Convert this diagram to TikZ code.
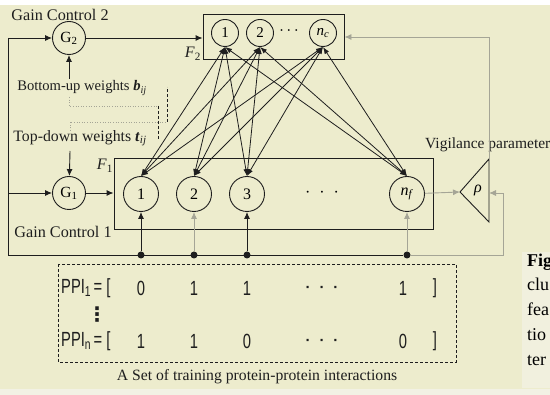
\documentclass[tikz,border=0pt]{standalone}
\usepackage{fontspec}
\setmainfont{Liberation Serif}
\newfontfamily\ppifont{Liberation Sans}
\newfontfamily\symfont{DejaVu Sans}
\usetikzlibrary{arrows.meta}
\definecolor{paper}{RGB}{237,236,205}
\definecolor{capbg}{RGB}{241,240,222}
\definecolor{strip}{RGB}{242,241,228}
\definecolor{ink}{RGB}{30,30,30}
\definecolor{pale}{RGB}{165,165,150}
\newcommand{\narrow}[1]{\scalebox{0.72}[1]{#1}}
\tikzset{
  ln/.style={line width=0.9pt, draw=ink},
  gl/.style={line width=0.9pt, draw=pale},
  arr/.style={-{Latex[length=7pt,width=6pt]}},
  twoway/.style={{Latex[length=7pt,width=5pt]}-{Latex[length=7pt,width=5pt]}, line width=0.8pt, draw=ink},
  gnode/.style={circle, draw=ink, line width=0.9pt, minimum size=33pt, inner sep=0pt, font=\fontsize{15.5}{17}\selectfont},
  cnode/.style={circle, draw=ink, line width=0.9pt, minimum size=27pt, inner sep=0pt, font=\fontsize{15}{17}\selectfont},
  fnode/.style={circle, draw=ink, line width=0.9pt, minimum size=35pt, inner sep=0pt, font=\fontsize{16}{18}\selectfont},
  layerbox/.style={draw=ink, line width=0.9pt, inner sep=0pt},
  dot/.style={circle, fill=ink, minimum size=7pt, inner sep=0pt},
  lbl/.style={font=\fontsize{15}{17}\selectfont, inner sep=0pt, text=ink},
  ppi/.style={font=\ppifont\fontsize{20.5}{22}\selectfont, inner sep=0pt, text=ink},
  ppidots/.style={font=\ppifont\bfseries\fontsize{15}{17}\selectfont, inner sep=0pt, text=ink},
  dotpath/.style={draw=pale, line width=0.9pt, dash pattern=on 1pt off 1.6pt},
  dashpath/.style={draw=ink, line width=0.9pt, dash pattern=on 3pt off 2pt},
  capt/.style={font=\fontsize{18}{20}\selectfont, anchor=base west, inner sep=0pt},
}
\begin{document}
\begin{tikzpicture}[x=1pt,y=-1pt]
\useasboundingbox (0,0) rectangle (550,395);
% paper
\fill[paper] (0,0) rectangle (550,395);
\fill[white] (0,0) rectangle (550,5);
\fill[strip] (0,389) rectangle (550,395);
\fill[capbg] (522,252) rectangle (550,388);

% caption fragments at the right edge
\begin{scope}
  \clip (522,250) rectangle (550,390);
  \node[capt] (c1) at (527,267) {\textbf{Fig}};
  \node[capt] (c2) at (527,291) {clu};
  \node[capt] (c3) at (527,316) {fea};
  \node[capt] (c4) at (527,341) {tio};
  \node[capt] (c5) at (527,366) {ter};
\end{scope}

% gain control units
\node[gnode] (g2) at (69,38) {G\textsubscript{2}};
\node[gnode] (g1) at (69,193) {G\textsubscript{1}};
\node[lbl, font=\fontsize{16.2}{18}\selectfont] (gc2) at (60,15) {Gain Control 2};
\node[lbl, font=\fontsize{16.2}{18}\selectfont] (gc1) at (63,232) {Gain Control 1};

% F2 layer
\node[layerbox, minimum width=141pt, minimum height=45pt] (f2box) at (273.5,37) {};
\node[cnode] (f21) at (225,33) {1};
\node[cnode] (f22) at (260,33) {2};
\node[font=\fontsize{15}{17}\selectfont] (f2dots) at (289,33) {·\hspace{2.5pt}·\hspace{2.5pt}·};
\node[cnode] (f2c) at (323,33) {\textit{n}\textsubscript{\textit{c}}};
\node[lbl, font=\fontsize{16}{18}\selectfont] (lf2) at (193,54) {\textit{F}\textsubscript{2}};

% F1 layer
\node[layerbox, minimum width=319pt, minimum height=71pt] (f1box) at (273.5,193.5) {};
\node[fnode] (f11) at (141,194) {1};
\node[fnode] (f12) at (194,194) {2};
\node[fnode] (f13) at (247,194) {3};
\node[font=\fontsize{16}{18}\selectfont] (f1dots) at (322,194) {·\hspace{9pt}·\hspace{9pt}·};
\node[fnode] (f1f) at (407,194) {\textit{n}\textsubscript{\textit{f}}};
\node[lbl, font=\fontsize{16}{18}\selectfont] (lf1) at (105,166) {\textit{F}\textsubscript{1}};

% bottom-up and top-down connections
\foreach \a in {f21,f22,f2c}
  \foreach \b in {f11,f12,f13,f1f}
    \draw[twoway] (\a.south) -- (\b.north);

% outer gain loop
\coordinate (lt) at (8,38);
\coordinate (lb) at (8,255);
\draw[ln] (lt) -- (lb);
\draw[ln,arr] (lt) -- (g2);
\draw[ln,arr] (lt |- g1) -- (g1);
\draw[ln,arr] (g2) -- (g2 -| f2box.west);
\draw[ln,arr] (g1) -- (g1 -| f1box.west);

% weight annotations
\node[lbl, font=\fontsize{14.6}{16}\selectfont] (bu) at (82,88) {Bottom-up weights \textbf{\textit{b}}\textsubscript{\textit{ij}}};
\node[lbl, font=\fontsize{15.8}{17}\selectfont] (td) at (80,138) {Top-down weights \textbf{\textit{t}}\textsubscript{\textit{ij}}};
\coordinate (bu1) at (69,79);
\coordinate (bu2) at (69,97);
\coordinate (bu3) at (69,106);
\coordinate (bu4) at (158,106);
\coordinate (bu5) at (158,140);
\draw[ln,arr] (bu1) -- (g2);
\draw[dotpath] (bu2) -- (bu3) -- (bu4);
\draw[dashpath] (bu4) -- (bu5);
\coordinate (td1) at (70,131);
\coordinate (td2) at (70,122);
\coordinate (td3) at (167,122);
\coordinate (td4) at (167,87);
\coordinate (td5) at (70,151);
\draw[dotpath] (td1) -- (td2) -- (td3);
\draw[dashpath] (td3) -- (td4);
\draw[ln,arr] (td5) -- (g1);

% vigilance unit
\coordinate (rtop) at (489,159);
\coordinate (rbot) at (489,222);
\coordinate (apex) at (460,192);
\draw[ln] (rtop) -- (apex) -- (rbot) -- cycle;
\node[font=\fontsize{16}{18}\selectfont\itshape] (rho) at (478,190) {ρ};
\node[lbl, font=\fontsize{15.5}{17}\selectfont, anchor=base west] (vig) at (425,149) {Vigilance parameter};
\draw[gl,arr] (f1f) -- (apex);
\draw[gl,arr] (rtop) |- (f2box.east);

% input taps
\node[dot] (d1) at (141,255) {};
\node[dot] (d2) at (194,255) {};
\node[dot] (d3) at (247,255) {};
\node[dot] (d4) at (407,255) {};
\coordinate (rb) at (503,255);
\coordinate (rin) at (489,193);
\draw[ln] (lb) -- (d4);
\draw[gl,arr] (d4) -- (rb) |- (rin);
\draw[ln,arr] (d1) -- (f11);
\draw[gl,arr] (d2) -- (f12);
\draw[ln,arr] (d3) -- (f13);
\draw[gl,arr] (d4) -- (f1f);

% training set
\draw[dashpath, line width=0.8pt] (58,264) rectangle (456,362);
\node[ppi, anchor=west] (p1) at (61,288) {\narrow{PPI\textsubscript{1}\,=\hspace{6pt}[}};
\node[ppi] (p11) at (141,288) {\narrow{0}};
\node[ppi] (p12) at (194,288) {\narrow{1}};
\node[ppi] (p13) at (247,288) {\narrow{1}};
\node[ppidots] (p14) at (322,289) {·\hspace{9pt}·\hspace{9pt}·};
\node[ppi] (p15) at (403,288) {\narrow{1}};
\node[ppi] (p16) at (435,288) {\narrow{]}};
\node[font=\symfont\bfseries\fontsize{20}{22}\selectfont, inner sep=0pt, text=ink] (pv) at (97,315) {⋮};
\node[ppi, anchor=west] (pn) at (61,341) {\narrow{PPI\textsubscript{n}\,=\hspace{6pt}[}};
\node[ppi] (pn1) at (141,341) {\narrow{1}};
\node[ppi] (pn2) at (194,341) {\narrow{1}};
\node[ppi] (pn3) at (247,341) {\narrow{0}};
\node[ppidots] (pn4) at (322,342) {·\hspace{9pt}·\hspace{9pt}·};
\node[ppi] (pn5) at (403,341) {\narrow{0}};
\node[ppi] (pn6) at (435,341) {\narrow{]}};
\node[lbl, font=\fontsize{15.7}{17}\selectfont] (setlbl) at (257,377) {A Set of training protein-protein interactions};
\end{tikzpicture}
\end{document}
